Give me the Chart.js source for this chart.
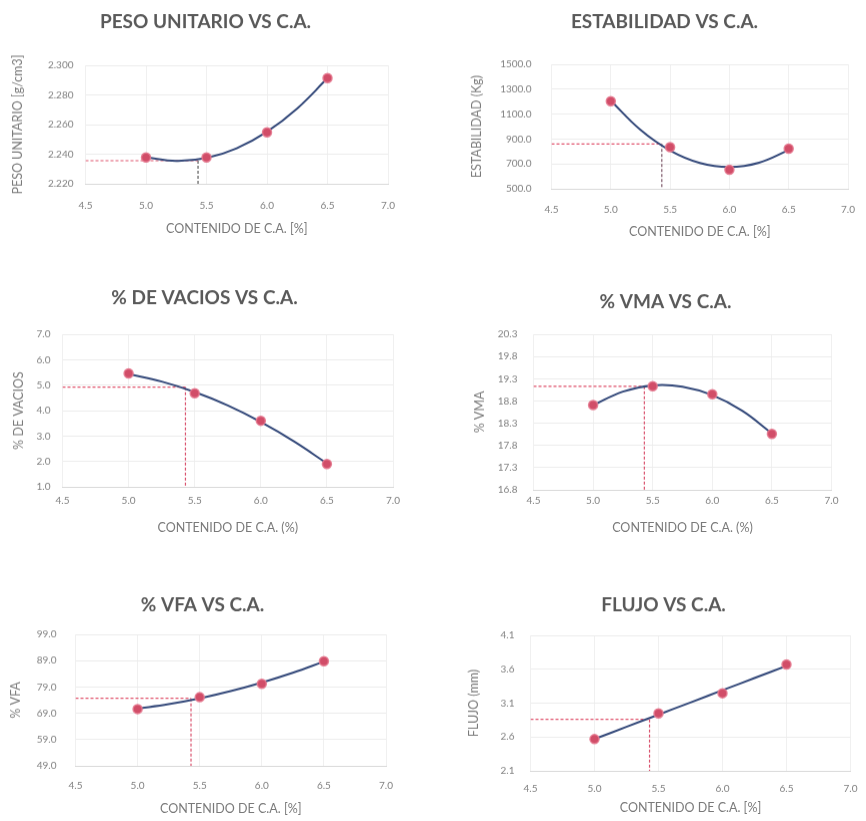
<!DOCTYPE html>
<html>
<head>
<meta charset="utf-8">
<script src="https://cdn.jsdelivr.net/npm/chart.js@4"></script>
<style>
  html, body { margin: 0; padding: 0; background: #fff; }
  #wrap { position: relative; width: 866px; height: 821px; overflow: hidden; }
  .c { position: absolute; }
</style>
</head>
<body>
<div id="wrap"></div>
<script>
// asphalt content (%) and the x ticks shared by every chart
const contenidoCA = [5.0, 5.5, 6.0, 6.5];
const trendCA = [5.0, 5.25, 5.5, 5.75, 6.0, 6.25, 6.5];
const xTicks = [4.5, 5.0, 5.5, 6.0, 6.5, 7.0];
const optCA = 5.43;

const pesoUnitario = [2.2378, 2.2378, 2.2548, 2.2914];
const pesoTrend = [2.2379, 2.2354, 2.2374, 2.2440, 2.2552, 2.2709, 2.2913];
const pesoTicks = [2.22, 2.24, 2.26, 2.28, 2.30];
const pesoOpt = 2.2356;

const estabilidad = [1204, 835, 653, 823];
const estabTrend = [1208, 974, 808, 708, 675, 710, 811];
const estabTicks = [500, 700, 900, 1100, 1300, 1500];
const estabOpt = 860;

const vacios = [5.46, 4.68, 3.60, 1.90];
const vaciosTrend = [5.44, 5.14, 4.73, 4.20, 3.55, 2.79, 1.92];
const vaciosTicks = [1, 2, 3, 4, 5, 6, 7];
const vaciosOpt = 4.92;

const vma = [18.71, 19.13, 18.95, 18.06];
const vmaTrend = [18.70, 19.01, 19.15, 19.12, 18.93, 18.58, 18.07];
const vmaTicks = [16.8, 17.3, 17.8, 18.3, 18.8, 19.3, 19.8, 20.3];
const vmaOpt = 19.13;

const vfa = [70.6, 75.1, 80.2, 88.8];
const vfaTrend = [70.74, 72.45, 74.67, 77.40, 80.67, 84.39, 88.65];
const vfaTicks = [49, 59, 69, 79, 89, 99];
const vfaOpt = 74.7;

const flujo = [2.569, 2.949, 3.246, 3.670];
const flujoTrend = [2.57, 2.75, 2.93, 3.11, 3.29, 3.47, 3.65];
const flujoTicks = [2.1, 2.6, 3.1, 3.6, 4.1];
const flujoOpt = 2.86;

Chart.defaults.font.family = "Lato, 'Open Sans', sans-serif";

const TF = 19, TLH = TF * 1.2;     // chart title
const AF = 12.5, ALH = AF * 1.2;   // axis titles
const KF = 10, KLH = KF * 1.2;     // tick labels

const charts = [
  { title: "PESO UNITARIO VS C.A.", yTitle: "PESO UNITARIO [g/cm3]", xTitle: "CONTENIDO DE C.A. [%]",
    pts: pesoUnitario, trend: pesoTrend, ticks: pesoTicks, opt: pesoOpt, dec: 3, vColor: "#5a5a5a",
    box: { l: 85, r: 396, t: 65, b: 183, yt: 17, yp: 12, xl: 205, xt: 228, tx: 205, ty: 22, top: 0 } },
  { title: "ESTABILIDAD VS C.A.", yTitle: "ESTABILIDAD (Kg)", xTitle: "CONTENIDO DE C.A. [%]",
    pts: estabilidad, trend: estabTrend, ticks: estabTicks, opt: estabOpt, dec: 1, vColor: "#7b5566",
    box: { l: 551, r: 851, t: 64, b: 188, yt: 476, yp: 20, xl: 209, xt: 231, tx: 664, ty: 22, top: 0 } },
  { title: "% DE VACIOS VS C.A.", yTitle: "% DE VACIOS", xTitle: "CONTENIDO DE C.A. (%)",
    pts: vacios, trend: vaciosTrend, ticks: vaciosTicks, opt: vaciosOpt, dec: 1, vColor: "#d9506c",
    box: { l: 62, r: 397, t: 334, b: 486, yt: 18, yp: 12, xl: 500, xt: 527, tx: 204, ty: 298, top: 270 } },
  { title: "% VMA VS C.A.", yTitle: "% VMA", xTitle: "CONTENIDO DE C.A. (%)",
    pts: vma, trend: vmaTrend, ticks: vmaTicks, opt: vmaOpt, dec: 1, vColor: "#d9506c",
    box: { l: 533, r: 831, t: 334, b: 489, yt: 479, yp: 16, xl: 500, xt: 527, tx: 665, ty: 302, top: 270 } },
  { title: "% VFA VS C.A.", yTitle: "% VFA", xTitle: "CONTENIDO DE C.A. [%]",
    pts: vfa, trend: vfaTrend, ticks: vfaTicks, opt: vfaOpt, dec: 1, vColor: "#d9506c",
    box: { l: 75, r: 393, t: 634, b: 765, yt: 15, yp: 19, xl: 785, xt: 808, tx: 202, ty: 605, top: 540 } },
  { title: "FLUJO VS C.A.", yTitle: "FLUJO (mm)", xTitle: "CONTENIDO DE C.A. [%]",
    pts: flujo, trend: flujoTrend, ticks: flujoTicks, opt: flujoOpt, dec: 1, vColor: "#d9506c",
    box: { l: 530, r: 850, t: 635, b: 770, yt: 473, yp: 16, xl: 788, xt: 807, tx: 663, ty: 605, top: 540 } }
];

const wrap = document.getElementById("wrap");

charts.forEach(function (cfg) {
  const b = cfg.box;
  const axisLeft = b.yt - ALH / 2;
  const yW = b.l - axisLeft;
  const rW = Math.max(0, 2 * b.tx - axisLeft - b.r);
  const pr = 10;
  const cL = axisLeft, cW = b.r + rW + pr - cL;
  const xH = b.xt - b.b + ALH / 2;
  const cT = b.top, cH = b.b + xH - cT;
  const tPadTop = b.ty - cT - TLH / 2;
  const tPadBot = b.t - cT - tPadTop - TLH;
  const yMin = cfg.ticks[0], yMax = cfg.ticks[cfg.ticks.length - 1];

  const div = document.createElement("div");
  div.className = "c";
  div.style.left = cL + "px";
  div.style.top = cT + "px";
  div.style.width = cW + "px";
  div.style.height = cH + "px";
  const canvas = document.createElement("canvas");
  div.appendChild(canvas);
  wrap.appendChild(div);

  new Chart(canvas, {
    type: "scatter",
    data: {
      datasets: [
        {
          data: contenidoCA.map((x, i) => ({ x: x, y: cfg.pts[i] })),
          pointRadius: 4.5,
          backgroundColor: "#d14d68",
          borderColor: "rgba(228,120,142,0.9)",
          borderWidth: 1.5,
          showLine: false
        },
        {
          data: trendCA.map((x, i) => ({ x: x, y: cfg.trend[i] })),
          showLine: true,
          pointRadius: 0,
          borderColor: "#34497a",
          borderWidth: 2,
          tension: 0.4
        },
        {
          data: [{ x: xTicks[0], y: cfg.opt }, { x: optCA, y: cfg.opt }],
          showLine: true,
          pointRadius: 0,
          borderColor: "#e0566f",
          borderWidth: 1.2,
          borderDash: [3, 2]
        },
        {
          data: [{ x: optCA, y: cfg.opt }, { x: optCA, y: yMin }],
          showLine: true,
          pointRadius: 0,
          borderColor: cfg.vColor,
          borderWidth: 1.2,
          borderDash: [3, 2]
        }
      ]
    },
    options: {
      responsive: true,
      maintainAspectRatio: false,
      animation: false,
      layout: { padding: { left: 0, right: pr, top: 0, bottom: 0 } },
      plugins: {
        legend: { display: false },
        tooltip: { enabled: false },
        title: {
          display: true,
          text: cfg.title,
          color: "#595959",
          font: { size: TF, weight: "bold", lineHeight: 1.2 },
          padding: { top: tPadTop, bottom: tPadBot }
        }
      },
      scales: {
        x: {
          type: "linear",
          min: xTicks[0],
          max: xTicks[xTicks.length - 1],
          afterBuildTicks: s => { s.ticks = xTicks.map(v => ({ value: v })); },
          afterFit: s => { s.height = xH; },
          grid: { color: "#f0f0f0", drawTicks: false },
          border: { color: "#d9d9d9" },
          ticks: {
            color: "#808080",
            font: { size: KF },
            padding: b.xl - b.b - KLH / 2,
            maxRotation: 0,
            callback: v => v.toFixed(1)
          },
          title: {
            display: true,
            text: cfg.xTitle,
            color: "#7a7a7a",
            font: { size: AF, lineHeight: 1.2 },
            padding: 0
          }
        },
        y: {
          type: "linear",
          min: yMin,
          max: yMax,
          afterBuildTicks: s => { s.ticks = cfg.ticks.map(v => ({ value: v })); },
          afterFit: s => { s.width = yW; },
          grid: { color: "#ececec", drawTicks: false },
          border: { display: false },
          ticks: {
            color: "#808080",
            font: { size: KF },
            padding: b.yp,
            callback: v => v.toFixed(cfg.dec)
          },
          title: {
            display: true,
            text: cfg.yTitle,
            color: "#7a7a7a",
            font: { size: AF, lineHeight: 1.2 },
            padding: 0
          }
        },
        yR: {
          type: "linear",
          position: "right",
          display: rW > 0,
          afterFit: s => { s.width = rW; },
          grid: { display: false },
          border: { display: false },
          ticks: { display: false }
        }
      }
    }
  });
});
</script>
</body>
</html>
